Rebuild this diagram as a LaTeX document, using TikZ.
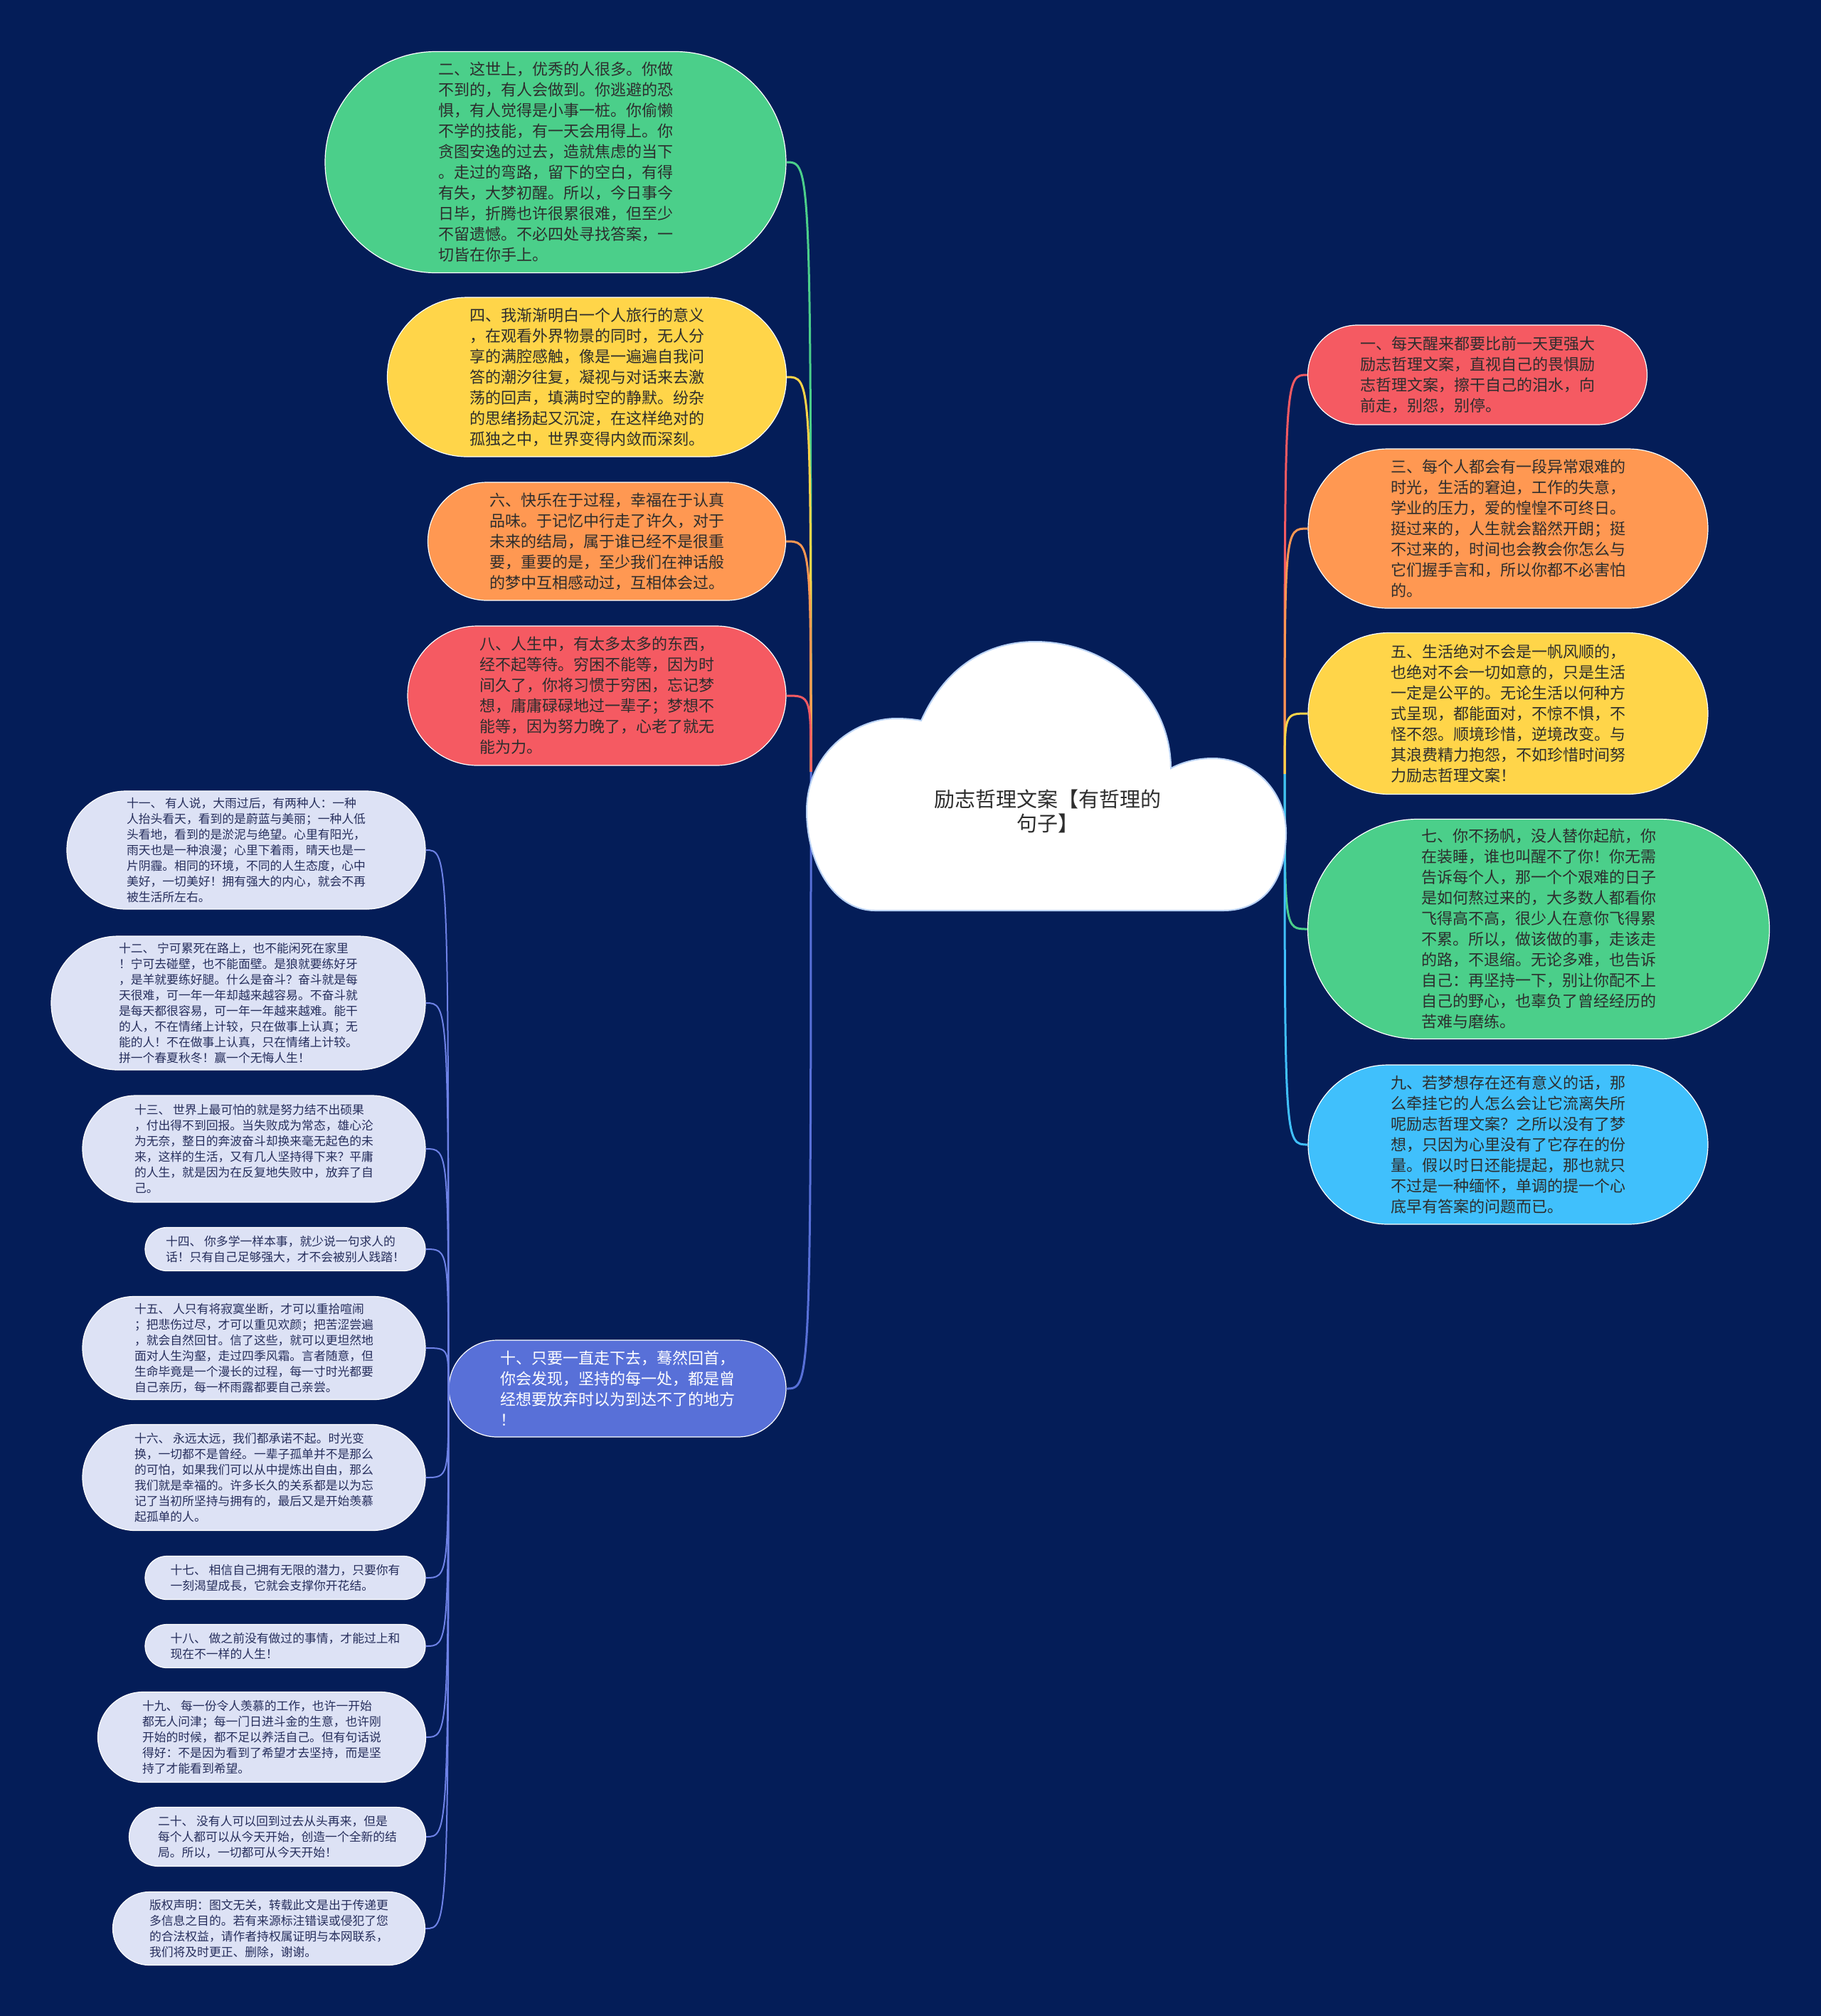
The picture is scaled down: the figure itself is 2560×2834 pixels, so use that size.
\documentclass[tikz,border=0pt]{standalone}
\usepackage{fontspec}
\newfontfamily\cjkfont{Noto Sans CJK SC}
\usepackage{xcolor}
\usetikzlibrary{calc}
\definecolor{bgnavy}{RGB}{4,29,88}
\definecolor{leafgreen}{RGB}{75,207,138}
\definecolor{sunyellow}{RGB}{255,213,73}
\definecolor{peach}{RGB}{255,152,82}
\definecolor{coral}{RGB}{245,90,98}
\definecolor{skyblue}{RGB}{64,192,252}
\definecolor{indigo}{RGB}{88,112,216}
\definecolor{lavender}{RGB}{221,226,245}
\definecolor{periwinkle}{RGB}{110,130,230}
\definecolor{txtdark}{RGB}{45,45,45}
\definecolor{txtnavy}{RGB}{38,46,92}
\definecolor{cloudrim}{RGB}{185,210,245}

\begin{document}
\begin{tikzpicture}[x=0.5pt, y=-0.5pt,
    pill/.style 2 args={rectangle, draw=white, line width=0.6pt, minimum width=#1, minimum height=#2, rounded corners=#2/2, align=left},
    bigleaf/.style={font=\cjkfont\fontsize{11}{14.5}\selectfont, text=txtdark, inner sep=3pt},
    smallleaf/.style={fill=lavender, font=\cjkfont\fontsize{8.4}{11}\selectfont, text=txtnavy, inner sep=2pt},
    link/.style={line width=1.5pt},
    sublink/.style={periwinkle, line width=1pt}]
\fill[bgnavy] (0,0) rectangle (2560,2834);
\coordinate (rootL) at (1140,1085);
\coordinate (rootR) at (1806,1088);
\node[bigleaf, fill=leafgreen, pill={324pt}{155.5pt}] (n2) at (781,228) {二、这世上，优秀的人很多。你做\\
不到的，有人会做到。你逃避的恐\\
惧，有人觉得是小事一桩。你偷懒\\
不学的技能，有一天会用得上。你\\
贪图安逸的过去，造就焦虑的当下\\
。走过的弯路，留下的空白，有得\\
有失，大梦初醒。所以，今日事今\\
日毕，折腾也许很累很难，但至少\\
不留遗憾。不必四处寻找答案，一\\
切皆在你手上。};
\node[bigleaf, fill=sunyellow, pill={280.5pt}{112pt}] (n4) at (825,530) {四、我渐渐明白一个人旅行的意义\\
，在观看外界物景的同时，无人分\\
享的满腔感触，像是一遍遍自我问\\
答的潮汐往复，凝视与对话来去激\\
荡的回声，填满时空的静默。纷杂\\
的思绪扬起又沉淀，在这样绝对的\\
孤独之中，世界变得内敛而深刻。};
\node[bigleaf, fill=peach, pill={251.5pt}{83pt}] (n6) at (853,761) {六、快乐在于过程，幸福在于认真\\
品味。于记忆中行走了许久，对于\\
未来的结局，属于谁已经不是很重\\
要，重要的是，至少我们在神话般\\
的梦中互相感动过，互相体会过。};
\node[bigleaf, fill=coral, pill={266pt}{98pt}] (n8) at (839,978) {八、人生中，有太多太多的东西，\\
经不起等待。穷困不能等，因为时\\
间久了，你将习惯于穷困，忘记梦\\
想，庸庸碌碌地过一辈子；梦想不\\
能等，因为努力晚了，心老了就无\\
能为力。};
\node[bigleaf, fill=coral, pill={238.5pt}{70pt}] (n1) at (2077,527) {一、每天醒来都要比前一天更强大\\
励志哲理文案，直视自己的畏惧励\\
志哲理文案，擦干自己的泪水，向\\
前走，别怨，别停。};
\node[bigleaf, fill=peach, pill={281pt}{112pt}] (n3) at (2120,743) {三、每个人都会有一段异常艰难的\\
时光，生活的窘迫，工作的失意，\\
学业的压力，爱的惶惶不可终日。\\
挺过来的，人生就会豁然开朗；挺\\
不过来的，时间也会教会你怎么与\\
它们握手言和，所以你都不必害怕\\
的。};
\node[bigleaf, fill=sunyellow, pill={281pt}{113.5pt}] (n5) at (2120,1003) {五、生活绝对不会是一帆风顺的，\\
也绝对不会一切如意的，只是生活\\
一定是公平的。无论生活以何种方\\
式呈现，都能面对，不惊不惧，不\\
怪不怨。顺境珍惜，逆境改变。与\\
其浪费精力抱怨，不如珍惜时间努\\
力励志哲理文案！};
\node[bigleaf, fill=leafgreen, pill={324.5pt}{154.5pt}] (n7) at (2163,1306) {七、你不扬帆，没人替你起航，你\\
在装睡，谁也叫醒不了你！你无需\\
告诉每个人，那一个个艰难的日子\\
是如何熬过来的，大多数人都看你\\
飞得高不高，很少人在意你飞得累\\
不累。所以，做该做的事，走该走\\
的路，不退缩。无论多难，也告诉\\
自己：再坚持一下，别让你配不上\\
自己的野心，也辜负了曾经经历的\\
苦难与磨练。};
\node[bigleaf, fill=skyblue, pill={281pt}{112pt}] (n9) at (2120,1609) {九、若梦想存在还有意义的话，那\\
么牵挂它的人怎么会让它流离失所\\
呢励志哲理文案？之所以没有了梦\\
想，只因为心里没有了它存在的份\\
量。假以时日还能提起，那也就只\\
不过是一种缅怀，单调的提一个心\\
底早有答案的问题而已。};
\node[bigleaf, fill=indigo, text=white, pill={237pt}{68pt}] (n10) at (868,1952) {十、只要一直走下去，蓦然回首，\\
你会发现，坚持的每一处，都是曾\\
经想要放弃时以为到达不了的地方\\
！};
\node[smallleaf, pill={252pt}{83pt}] (n11) at (346,1195) {十一、 有人说，大雨过后，有两种人：一种\\
人抬头看天，看到的是蔚蓝与美丽；一种人低\\
头看地，看到的是淤泥与绝望。心里有阳光，\\
雨天也是一种浪漫；心里下着雨，晴天也是一\\
片阴霾。相同的环境，不同的人生态度，心中\\
美好，一切美好！拥有强大的内心，就会不再\\
被生活所左右。};
\node[smallleaf, pill={263pt}{94pt}] (n12) at (335,1410) {十二、 宁可累死在路上，也不能闲死在家里\\
！宁可去碰壁，也不能面壁。是狼就要练好牙\\
，是羊就要练好腿。什么是奋斗？奋斗就是每\\
天很难，可一年一年却越来越容易。不奋斗就\\
是每天都很容易，可一年一年越来越难。能干\\
的人，不在情绪上计较，只在做事上认真；无\\
能的人！不在做事上认真，只在情绪上计较。\\
拼一个春夏秋冬！赢一个无悔人生！};
\node[smallleaf, pill={241pt}{75pt}] (n13) at (357,1615) {十三、 世界上最可怕的就是努力结不出硕果\\
，付出得不到回报。当失败成为常态，雄心沦\\
为无奈，整日的奔波奋斗却换来毫无起色的未\\
来，这样的生活，又有几人坚持得下来？平庸\\
的人生，就是因为在反复地失败中，放弃了自\\
己。};
\node[smallleaf, pill={197pt}{30.5pt}] (n14) at (401,1756) {十四、 你多学一样本事，就少说一句求人的\\
话！只有自己足够强大，才不会被别人践踏！};
\node[smallleaf, pill={241pt}{72.5pt}] (n15) at (357,1895) {十五、 人只有将寂寞坐断，才可以重拾喧闹\\
；把悲伤过尽，才可以重见欢颜；把苦涩尝遍\\
，就会自然回甘。信了这些，就可以更坦然地\\
面对人生沟壑，走过四季风霜。言者随意，但\\
生命毕竟是一个漫长的过程，每一寸时光都要\\
自己亲历，每一杯雨露都要自己亲尝。};
\node[smallleaf, pill={241pt}{74.5pt}] (n16) at (357,2077) {十六、 永远太远，我们都承诺不起。时光变\\
换，一切都不是曾经。一辈子孤单并不是那么\\
的可怕，如果我们可以从中提炼出自由，那么\\
我们就是幸福的。许多长久的关系都是以为忘\\
记了当初所坚持与拥有的，最后又是开始羡慕\\
起孤单的人。};
\node[smallleaf, pill={197pt}{30.5pt}] (n17) at (401,2218) {十七、 相信自己拥有无限的潜力，只要你有\\
一刻渴望成長，它就会支撑你开花结。};
\node[smallleaf, pill={197pt}{30.5pt}] (n18) at (401,2314) {十八、 做之前没有做过的事情，才能过上和\\
现在不一样的人生！};
\node[smallleaf, pill={230.5pt}{63.5pt}] (n19) at (368,2442) {十九、 每一份令人羡慕的工作，也许一开始\\
都无人问津；每一门日进斗金的生意，也许刚\\
开始的时候，都不足以养活自己。但有句话说\\
得好：不是因为看到了希望才去坚持，而是坚\\
持了才能看到希望。};
\node[smallleaf, pill={208.5pt}{41.5pt}] (n20) at (390,2582) {二十、 没有人可以回到过去从头再来，但是\\
每个人都可以从今天开始，创造一个全新的结\\
局。所以，一切都可从今天开始！};
\node[smallleaf, pill={219.5pt}{51.5pt}] (n21) at (378,2711) {版权声明：图文无关，转载此文是出于传递更\\
多信息之目的。若有来源标注错误或侵犯了您\\
的合法权益，请作者持权属证明与本网联系，\\
我们将及时更正、删除，谢谢。};
\draw[link, leafgreen] (rootL) .. controls (rootL |- n2.east) .. (n2.east);
\draw[link, sunyellow] (rootL) .. controls (rootL |- n4.east) .. (n4.east);
\draw[link, peach] (rootL) .. controls (rootL |- n6.east) .. (n6.east);
\draw[link, coral] (rootL) .. controls (rootL |- n8.east) .. (n8.east);
\draw[link, indigo] (rootL) .. controls (rootL |- n10.east) .. (n10.east);
\draw[link, coral] (rootR) .. controls (rootR |- n1.west) .. (n1.west);
\draw[link, peach] (rootR) .. controls (rootR |- n3.west) .. (n3.west);
\draw[link, sunyellow] (rootR) .. controls (rootR |- n5.west) .. (n5.west);
\draw[link, leafgreen] (rootR) .. controls (rootR |- n7.west) .. (n7.west);
\draw[link, skyblue] (rootR) .. controls (rootR |- n9.west) .. (n9.west);
\draw[sublink] (n10.west) .. controls (n10.west |- n11.east) .. (n11.east);
\draw[sublink] (n10.west) .. controls (n10.west |- n12.east) .. (n12.east);
\draw[sublink] (n10.west) .. controls (n10.west |- n13.east) .. (n13.east);
\draw[sublink] (n10.west) .. controls (n10.west |- n14.east) .. (n14.east);
\draw[sublink] (n10.west) .. controls (n10.west |- n15.east) .. (n15.east);
\draw[sublink] (n10.west) .. controls (n10.west |- n16.east) .. (n16.east);
\draw[sublink] (n10.west) .. controls (n10.west |- n17.east) .. (n17.east);
\draw[sublink] (n10.west) .. controls (n10.west |- n18.east) .. (n18.east);
\draw[sublink] (n10.west) .. controls (n10.west |- n19.east) .. (n19.east);
\draw[sublink] (n10.west) .. controls (n10.west |- n20.east) .. (n20.east);
\draw[sublink] (n10.west) .. controls (n10.west |- n21.east) .. (n21.east);
\draw[cloudrim, line width=1pt, fill=white] (1295,1013) .. controls (1330,935) and (1390,902) .. (1455,902)
  .. controls (1560,902) and (1646,980) .. (1646,1080)
  .. controls (1665,1070) and (1685,1066) .. (1705,1066)
  .. controls (1765,1066) and (1808,1115) .. (1808,1170)
  .. controls (1808,1240) and (1775,1280) .. (1720,1280)
  -- (1230,1280)
  .. controls (1170,1280) and (1134,1210) .. (1134,1140)
  .. controls (1134,1060) and (1200,1010) .. (1260,1010)
  .. controls (1272,1010) and (1284,1011) .. (1295,1013) -- cycle;
\node[font=\cjkfont\fontsize{14.5}{17}\selectfont, text=txtdark, align=center] (root) at (1473,1140) {励志哲理文案【有哲理的\\句子】};
\end{tikzpicture}
\end{document}
